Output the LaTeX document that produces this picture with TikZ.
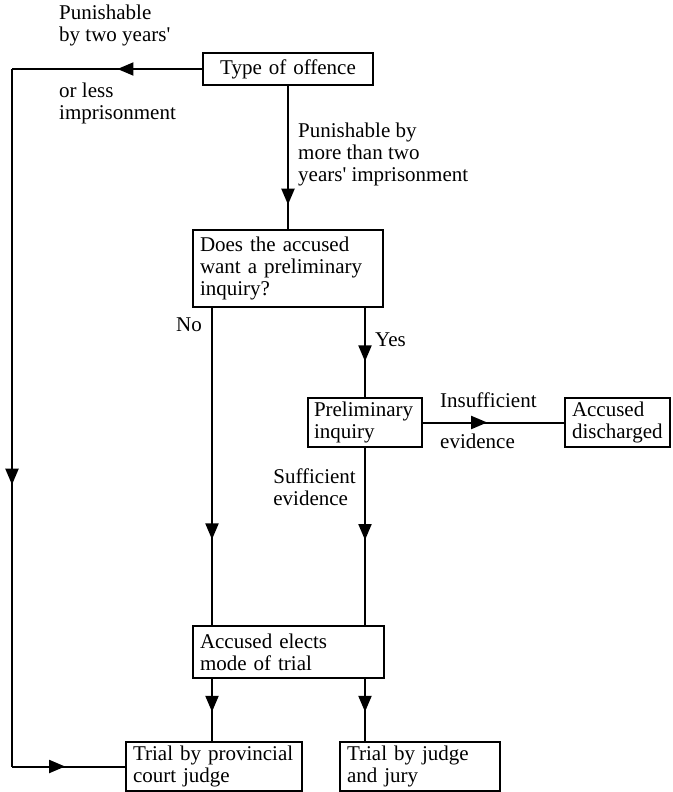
\documentclass[tikz,border=0pt]{standalone}
\usepackage{fontspec}
\setmainfont{Liberation Serif}
\usetikzlibrary{arrows.meta,decorations.markings}
\begin{document}
\begin{tikzpicture}[x=1pt,y=-1pt,
  box/.style={draw,line width=2pt,rectangle,inner xsep=7pt,inner ysep=0pt,align=left,font=\fontsize{21}{22}\selectfont},
  lbl/.style={inner sep=0pt,align=left,font=\fontsize{21}{22}\selectfont},
  conn/.style={line width=2pt},
  midarrow/.style={postaction={decorate},decoration={markings,mark=at position #1 with {\arrow{Triangle[length=16pt,width=13pt]}}}}
]
\useasboundingbox (0,0) rectangle (672,792);

\node[box,text width=156pt,minimum height=32pt,align=center] (offence) at (288,69) {Type of offence};
\node[box,text width=176pt,minimum height=77pt] (q) at (288,268.5) {Does the accused\\want a preliminary\\inquiry?};
\node[box,inner xsep=6pt,text width=102pt,minimum height=49pt] (prelim) at (365,422.5) {Preliminary\\inquiry};
\node[box,text width=91pt,minimum height=49pt] (dis) at (617.5,422.5) {Accused\\discharged};
\node[box,text width=177pt,minimum height=52pt] (elects) at (288.5,652) {Accused elects\\mode of trial};
\node[box,text width=162pt,minimum height=49pt] (trial1) at (214,766.5) {Trial by provincial\\court judge};
\node[box,text width=146pt,minimum height=49pt] (trial2) at (420,766.5) {Trial by judge\\and jury};

\coordinate (c1) at (12,69);
\coordinate (c2) at (12,766.5);
\coordinate (xno) at (212,0);

\draw[conn,midarrow=0.445] (offence.west) -- (c1);
\draw[conn,midarrow=0.596] (c1) -- (c2);
\draw[conn,midarrow=0.47] (c2) -- (trial1.west);
\draw[conn,midarrow=0.83] (offence.south) -- (q.north);
\draw[conn,midarrow=0.73] (q.south -| xno) -- (elects.north -| xno);
\draw[conn,midarrow=0.6] (q.south -| prelim.north) -- (prelim.north);
\draw[conn,midarrow=0.455] (prelim.east) -- (dis.west);
\draw[conn,midarrow=0.52] (prelim.south) -- (elects.north -| prelim.south);
\draw[conn,midarrow=0.53] (elects.south -| xno) -- (trial1.north -| xno);
\draw[conn,midarrow=0.53] (elects.south -| prelim.south) -- (trial2.north -| prelim.south);

\node[lbl,anchor=west] (l1) at (59,25) {Punishable\\by two years\textquotesingle};
\node[lbl,anchor=west] (l2) at (59,103) {or less\\imprisonment};
\node[lbl,anchor=west] (l3) at (298,154) {Punishable by\\more than two\\years\textquotesingle{} imprisonment};
\node[lbl,anchor=east] (lno) at (202,325) {No};
\node[lbl,anchor=west] (lyes) at (375,340) {Yes};
\node[lbl,anchor=west] (lins) at (440,400) {Insufficient};
\node[lbl,anchor=west] (lev) at (440,441) {evidence};
\node[lbl,anchor=east] (lsuf) at (356,487) {Sufficient\\evidence};
\end{tikzpicture}
\end{document}
